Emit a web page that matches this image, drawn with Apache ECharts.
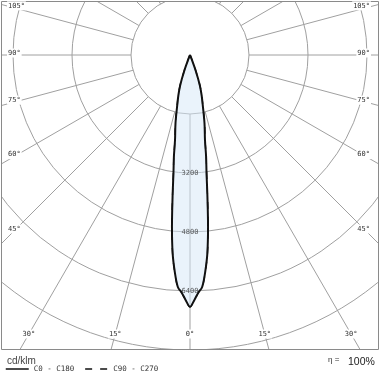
<!DOCTYPE html>
<html><head><meta charset="utf-8">
<script src="https://cdn.jsdelivr.net/npm/echarts@6/dist/echarts.min.js"></script>
<style>html,body{margin:0;padding:0;background:#fff}#c{width:380px;height:380px}</style>
</head><body><div id="c"></div>
<script>
// Luminous intensity distribution (cd/klm), gamma angle in degrees from nadir
const gammaDeg = [0, 1, 2, 3, 4, 5, 6, 7, 8, 9, 10, 12, 14, 16, 18, 20, 22, 24];
const c0c180   = [6830, 6650, 6450, 6300, 5900, 5400, 4680, 3880, 3220, 2790, 2340, 1890, 1450, 1150, 860, 440, 100, 0];
const c90c270  = [6830, 6650, 6450, 6300, 5900, 5400, 4680, 3880, 3220, 2790, 2340, 1890, 1450, 1150, 860, 440, 100, 0];
const ringLabels = [3200, 4800, 6400];
const angleLabels = [105, 90, 75, 60, 45, 30, 15, 0];
const efficiency = '100%';

const CX = 190, CY = 55, R_IN = 59, R_OUT = 354;

function curve(vals) {
  const pts = [];
  for (let i = gammaDeg.length - 1; i >= 0; i--) pts.push([vals[i], gammaDeg[i]]);
  for (let i = 1; i < gammaDeg.length; i++) pts.push([vals[i], -gammaDeg[i]]);
  return pts;
}

const gridColor = '#a0a0a0';
const labelFont = '7px "DejaVu Sans Mono"';
const graphics = [
  {type:'rect', shape:{x:0,y:0,width:380,height:1.5}, style:{fill:'#fff'}, z:100, silent:true},
  {type:'rect', shape:{x:0,y:0,width:1.5,height:380}, style:{fill:'#fff'}, z:100, silent:true},
  {type:'rect', shape:{x:378.5,y:0,width:2,height:380}, style:{fill:'#fff'}, z:100, silent:true},
  {type:'rect', shape:{x:0,y:349.5,width:380,height:31}, style:{fill:'#fff'}, z:100, silent:true},
  {type:'rect', shape:{x:1.5,y:1.5,width:377,height:348}, style:{fill:null, stroke:'#8a8a8a', lineWidth:1}, z:101, silent:true}
];
angleLabels.forEach(a => {
  const sides = a === 0 ? [1] : [-1, 1];
  sides.forEach(s => {
    const rad = a * Math.PI / 180;
    const dx = s * Math.sin(rad), dy = Math.cos(rad);
    let x, y, align;
    if (a <= 30) {
      y = 334; x = CX + dx * (334 - CY) / dy; align = 'center';
    } else {
      const xe = s > 0 ? 366 : 14;
      const t = (xe - CX) / dx;
      y = CY + dy * t - 2;
      x = s > 0 ? 371 : 7; align = s > 0 ? 'right' : 'left';
    }
    graphics.push({type:'text', x:x, y:y, z:102, silent:true,
      style:{text: a + '°', font: labelFont, fill:'#333', align: align, verticalAlign:'middle',
             backgroundColor:'#fff', padding:[1,1]}});
  });
});
graphics.push({type:'text', x:7, y:361, z:102, style:{text:'cd/klm', font:'10px "Liberation Sans"', fill:'#444', align:'left', verticalAlign:'middle'}});
graphics.push({type:'text', x:328, y:360, z:102, style:{text:'η =', font:'8px "Liberation Sans"', fill:'#333', align:'left', verticalAlign:'middle'}});
graphics.push({type:'text', x:348, y:362, z:102, style:{text:efficiency, font:'10.5px "Liberation Sans"', fill:'#222', align:'left', verticalAlign:'middle'}});

const chart = echarts.init(document.getElementById('c'));
chart.setOption({
  animation: false,
  backgroundColor: '#fff',
  polar: [
    {center:[CX, CY], radius:[R_IN, R_OUT]},
    {center:[CX, CY], radius:[0, R_OUT]}
  ],
  angleAxis: [
    {polarIndex:0, type:'value', min:0, max:360, interval:15, startAngle:270,
     axisLine:{show:false}, axisTick:{show:false}, axisLabel:{show:false},
     splitLine:{show:true, lineStyle:{color:gridColor, width:1}}},
    {polarIndex:1, type:'value', min:-180, max:180, startAngle:90, clockwise:true, show:false}
  ],
  radiusAxis: [
    {polarIndex:0, type:'value', min:1600, max:9600, interval:1600,
     axisLine:{show:false}, axisTick:{show:false}, axisLabel:{show:false},
     splitLine:{show:true, lineStyle:{color:gridColor, width:1}}},
    {polarIndex:1, type:'value', min:0, max:9600, show:false}
  ],
  legend: {
    left: 5, top: 365, padding: 0, itemWidth: 23, itemHeight: 8, itemGap: 10,
    itemStyle: {opacity: 0},
    lineStyle: {width: 1.5},
    textStyle: {fontFamily:'DejaVu Sans Mono', fontSize:7.5, color:'#333'},
    data: ['C0 - C180', 'C90 - C270'], selectedMode: false, z: 103
  },
  series: [
    {name:'C90 - C270', type:'line', coordinateSystem:'polar', polarIndex:1,
     data: curve(c90c270), smooth:0.35, symbol:'none', z:2, color:'#111',
     lineStyle:{color:'#111', width:1.5, type:[7,8]}},
    {name:'C0 - C180', type:'line', coordinateSystem:'polar', polarIndex:1,
     data: curve(c0c180), smooth:0.35, symbol:'none', z:3, color:'#111',
     lineStyle:{color:'#111', width:2},
     areaStyle:{color:'#d6e7f8', opacity:0.5}},
    {name:'rings', type:'scatter', coordinateSystem:'polar', polarIndex:1,
     data: ringLabels.map(v => [v, 0]), symbolSize: 0, z: 5, silent: true,
     label:{show:true, position:'inside', formatter: p => String(p.value[0]),
            fontFamily:'DejaVu Sans Mono', fontSize:7, color:'#333'}}
  ],
  graphic: graphics
});
</script></body></html>
